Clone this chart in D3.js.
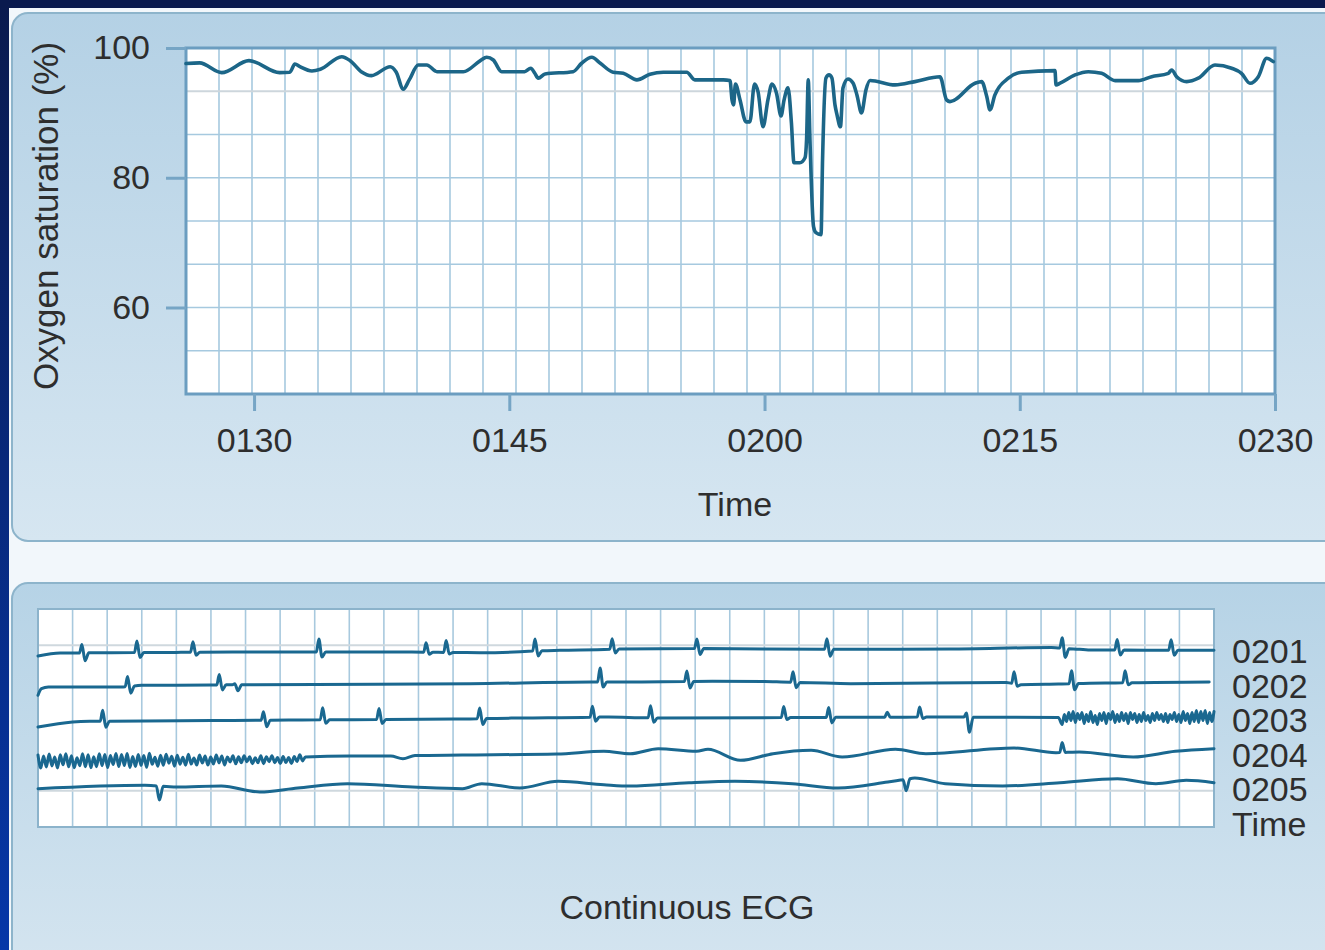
<!DOCTYPE html>
<html>
<head>
<meta charset="utf-8">
<script src="https://cdn.jsdelivr.net/npm/d3@7"></script>
<style>
  html, body { margin: 0; padding: 0; background: #f2f7fb; }
  svg { display: block; }
  text { font-family: "Liberation Sans", Arial, Helvetica, sans-serif; fill: #2e2e2e; }
</style>
</head>
<body>
<script>
// ---------------- DATA ----------------
// SpO2 trace: time in minutes after 01:00, value in %
const spo2Time = [26.0, 26.8, 28.1, 29.7, 31.5, 32.1, 32.4, 32.7, 33.4, 33.9,
  35.15, 35.65, 36.3, 36.9, 38.0, 38.35, 38.77, 39.12, 39.65, 40.15,
  40.75, 42.3, 43.3, 43.67, 44.06, 44.55, 45.9, 46.26, 46.5, 46.7,
  47.1, 48.75, 49.25, 49.85, 50.35, 51.1, 51.7, 52.5, 53.27, 54.05,
  55.43, 55.9, 57.58, 57.97, 58.09, 58.18, 58.29, 58.56, 58.91, 59.14,
  59.41, 59.62, 59.91, 60.2, 60.44, 60.7, 60.97, 61.15, 61.38, 61.58,
  61.73, 62.08, 62.38, 62.47, 62.57, 62.67, 62.88, 63.02, 63.32, 63.41,
  63.61, 63.79, 63.96, 64.14, 64.26, 64.46, 64.61, 64.9, 65.2, 65.43,
  65.7, 65.96, 66.2, 67.67, 68.84, 70.31, 70.7, 70.9, 72.37, 72.76,
  73.06, 73.25, 73.54, 74.33, 75.11, 77.07, 77.13, 77.37, 78.25, 79.03,
  79.81, 80.6, 81.97, 82.75, 83.73, 83.93, 84.22, 84.81, 85.49, 86.47,
  87.45, 88.03, 88.53, 89.02, 89.51, 89.9];
const spo2Value = [97.6, 97.7, 96.2, 98.05, 96.2, 96.26, 97.54, 97.12, 96.46, 96.72,
  98.66, 98.05, 96.35, 95.74, 97.12, 96.3, 93.65, 95.08, 97.38, 97.38,
  96.35, 96.35, 98.05, 98.57, 98.15, 96.35, 96.35, 96.88, 96.1, 95.34,
  96.0, 96.35, 97.65, 98.57, 97.65, 96.26, 96.1, 95.08, 95.95, 96.26,
  96.26, 95.08, 95.08, 95.0, 92.0, 91.23, 94.46, 92.0, 88.62, 88.62,
  94.46, 93.23, 87.85, 92.0, 94.46, 93.08, 89.54, 92.0, 93.85, 88.46,
  82.31, 82.31, 83.08, 85.85, 95.08, 85.85, 72.46, 71.54, 71.23, 82.77,
  95.38, 95.85, 95.38, 91.23, 89.69, 87.85, 93.85, 95.23, 94.62, 92.77,
  90.0, 93.54, 95.0, 94.31, 94.82, 95.58, 92.0, 91.74, 94.57, 94.82,
  92.51, 90.46, 92.77, 95.34, 96.26, 96.51, 94.31, 94.57, 95.85, 96.35,
  96.1, 94.97, 94.97, 95.58, 96.1, 96.62, 95.58, 94.82, 95.34, 97.38,
  96.88, 96.1, 94.57, 95.58, 98.42, 97.89];

const spo2Domain = [26, 90];                     // 01:26 .. 02:30
const spo2YDomain = [100 - 8 * 20 / 3, 100];     // 46.67 .. 100 %
const xTickValues = [30, 45, 60, 75, 90];
const xTickLabels = ["0130", "0145", "0200", "0215", "0230"];
const yTickValues = [60, 80, 100];
const yTickLabels = ["60", "80", "100"];

// ECG strips: position along strip (grid units), mV
const ecgRows = ["0201", "0202", "0203", "0204", "0205"];
const ecgDomain = [0, 34];
// QRS template: [dx, factor of R, factor of S]
const qrsShape = [[-0.07, 0, 0], [0, 1, 0], [0.09, 0, -1], [0.2, 0, 0]];

const base0201 = [[0,-0.45],[0.64,-0.15],[3.24,-0.1],[6.13,-0.05],[10.47,-0.05],[12.78,-0.12],[15.09,0.12],[16.83,0.25],[19.14,0.3],[22.9,0.22],[26.37,0.25],[29.3,0.4],[30.42,0.15],[34,0.12]];
const beats0201 = [[1.27,0.85,0.8],[2.86,1.15,0.5],[4.48,1.05,0.3],[8.12,1.3,0.5],[11.22,0.95,0.2],[11.8,1.2,0.15],[14.37,1.2,0.5],[16.6,1.05,0.4],[19.05,0.95,0.6],[22.81,1.05,0.7],[29.61,1.05,0.9],[31.2,1.05,0.5],[32.76,1.05,0.5]];

const base0202 = [[0,-0.93],[0.1,-0.27],[0.3,-0.1],[2.4,-0.1],[3.0,0.07],[5.0,0.1],[6.0,0.13],[12.5,0.23],[16.0,0.4],[17.1,0.4],[19.5,0.47],[21.0,0.45],[23.5,0.23],[28.0,0.35],[28.4,0.13],[29.5,0.2],[31.0,0.3],[33.86,0.4]];
const beats0202 = [[2.59,1.0,0.7],[5.24,1.05,0.5],[5.69,0.1,0.6],[16.25,1.4,0.5],[18.76,1.05,0.65],[21.83,1.05,0.55],[28.22,1.2,0.2],[29.88,1.3,0.6],[31.43,1.2,0.2]];

const base0203 = [[0,-0.65],[1.0,-0.15],[1.5,-0.08],[5.0,0.0],[10.0,0.1],[12.0,0.15],[14.0,0.25],[16.5,0.35],[18.0,0.25],[22.0,0.3],[26.0,0.35],[29.5,0.3],[34,0.3]];
const beats0203 = [[1.87,1.1,0.6],[6.52,0.85,0.65],[8.23,1.2,0.35],[9.86,1.1,0.4],[12.77,1.05,0.6],[16.03,1.1,0.4],[17.71,1.2,0.45],[21.56,1.1,0.2],[22.86,1.0,0.55],[24.55,0.5,0.0],[25.49,1.0,0.15],[26.84,0.4,1.5]];
const noiseSpan0203 = [29.61, 34.0];
const noise0203 = [-0.7,0.3,-0.4,0.5,-0.3,0.6,-0.5,0.4,-0.2,0.5,-0.6,0.3,-0.4,0.6,-0.5,0.2,-0.7,0.4,-0.3,0.5,-0.6,0.4,-0.2,0.6,-0.5,0.3,-0.4,0.5,-0.3,0.4,-0.6,0.5,-0.2,0.4,-0.5,0.3,-0.4,0.5,-0.3,0.2,-0.5,0.4,-0.3,0.5,-0.2,0.3,-0.4,0.4,-0.5,0.3,-0.2,0.5,-0.4,0.3,-0.5,0.6,-0.3,0.4,-0.6,0.5,-0.4,0.7,-0.5,0.6,-0.3,0.7,-0.6,0.5,-0.4,0.6];

const base0204 = [[0,-0.6],[7.5,-0.45],[7.73,-0.2],[9.0,-0.1],[10.2,-0.1],[10.55,-0.37],[10.9,-0.05],[12.27,0.0],[15.0,0.1],[16.36,0.37],[17.12,0.13],[17.93,0.63],[19.04,0.37],[19.37,0.57],[20.31,-0.53],[21.25,0.13],[22.35,0.47],[23.25,-0.2],[24.79,0.57],[25.67,0.13],[28.22,0.7],[29.43,0.23],[30.1,0.3],[31.66,-0.2],[32.88,0.37],[34,0.63]];
const beats0204 = [[29.61,1.0,0.0]];
const noiseSpan0204 = [0, 7.73];
const noise0204 = [0.6,-0.7,0.5,-0.6,0.7,-0.5,0.4,-0.7,0.6,-0.4,0.7,-0.6,0.5,-0.7,0.3,-0.5,0.7,-0.6,0.6,-0.7,0.4,-0.6,0.7,-0.5,0.6,-0.7,0.5,-0.4,0.7,-0.6,0.6,-0.5,0.7,-0.7,0.4,-0.6,0.6,-0.5,0.5,-0.7,0.7,-0.4,0.3,-0.6,0.5,-0.5,0.6,-0.3,0.4,-0.6,0.5,-0.4,0.3,-0.5,0.6,-0.4,0.2,-0.5,0.5,-0.3,0.4,-0.5,0.3,-0.4,0.5,-0.3,0.4,-0.5,0.3,-0.2,0.4,-0.4,0.3,-0.3,0.4,-0.2,0.3,-0.4,0.2,-0.3,0.4,-0.4,0.3,-0.2,0.4,-0.3,0.2,-0.4,0.3,-0.3,0.2,-0.4,0.3,-0.2,0.4,-0.3,0.0];

const base0205 = [[0,0.08],[3.09,0.42],[4.0,0.25],[5.3,0.35],[6.41,-0.25],[7.51,0.15],[8.95,0.58],[10.83,0.25],[12.27,0.08],[12.83,0.58],[13.93,0.15],[15.04,0.82],[16.36,0.48],[17.12,0.35],[18.82,0.68],[20.15,0.82],[21.81,0.58],[23.13,0.15],[24.57,0.75],[25.35,1.15],[26.23,0.58],[27.89,0.35],[29.55,0.68],[31.21,1.08],[32.32,0.58],[33.2,0.92],[34,0.68]];
const beats0205 = [[3.42,0,1.4],[25.01,0,1.15]];

const ecgSeries = [
  {row: "0201", base: base0201, beats: beats0201, noise: null, span: null},
  {row: "0202", base: base0202, beats: beats0202, noise: null, span: null},
  {row: "0203", base: base0203, beats: beats0203, noise: noise0203, span: noiseSpan0203},
  {row: "0204", base: base0204, beats: beats0204, noise: noise0204, span: noiseSpan0204},
  {row: "0205", base: base0205, beats: beats0205, noise: null, span: null}
];

// ---------------- DRAW ----------------
const W = 1325, H = 950;
const svg = d3.select("body").append("svg").attr("width", W).attr("height", H);
const defs = svg.append("defs");

const gStrip = defs.append("linearGradient").attr("id", "strip").attr("x1", 0).attr("y1", 0).attr("x2", 0).attr("y2", 1);
gStrip.append("stop").attr("offset", "0%").attr("stop-color", "#0a1a4e");
gStrip.append("stop").attr("offset", "100%").attr("stop-color", "#0637a8");

const gPanel = defs.append("linearGradient").attr("id", "panel").attr("x1", 0).attr("y1", 0).attr("x2", 0).attr("y2", 1);
gPanel.append("stop").attr("offset", "0%").attr("stop-color", "#b4d1e5");
gPanel.append("stop").attr("offset", "100%").attr("stop-color", "#d6e6f1");

const gPanel2 = defs.append("linearGradient").attr("id", "panel2").attr("x1", 0).attr("y1", 0).attr("x2", 0).attr("y2", 1);
gPanel2.append("stop").attr("offset", "0%").attr("stop-color", "#b6d3e6");
gPanel2.append("stop").attr("offset", "100%").attr("stop-color", "#d5e5f0");

// slide frame
svg.append("rect").attr("x", 0).attr("y", 0).attr("width", 9).attr("height", H).attr("fill", "url(#strip)");
svg.append("rect").attr("x", 0).attr("y", 0).attr("width", W).attr("height", 8).attr("fill", "#0a1a4e");

// panels
svg.append("rect").attr("x", 12).attr("y", 13).attr("width", 1350).attr("height", 528).attr("rx", 16)
  .attr("fill", "url(#panel)").attr("stroke", "#8db4cb").attr("stroke-width", 2);
svg.append("rect").attr("x", 12).attr("y", 583).attr("width", 1350).attr("height", 400).attr("rx", 16)
  .attr("fill", "url(#panel2)").attr("stroke", "#8db4cb").attr("stroke-width", 2);

// ---------- Top chart: oxygen saturation ----------
const x = d3.scaleLinear().domain(spo2Domain).range([186, 1275]);
const y = d3.scaleLinear().domain(spo2YDomain).range([394, 48]);
const gTop = svg.append("g");

gTop.append("rect").attr("x", x.range()[0]).attr("y", y.range()[1])
  .attr("width", x.range()[1] - x.range()[0]).attr("height", y.range()[0] - y.range()[1]).attr("fill", "#ffffff");

const nCols = 33;
const vGrid = d3.range(1, nCols).map(k => spo2Domain[0] + k * (spo2Domain[1] - spo2Domain[0]) / nCols);
gTop.append("g").selectAll("line").data(vGrid).join("line")
  .attr("x1", d => x(d)).attr("x2", d => x(d)).attr("y1", y.range()[1]).attr("y2", y.range()[0])
  .attr("stroke", "#a6c9df").attr("stroke-width", 1.6);
const hGrid = d3.range(1, 8).map(k => 100 - k * 20 / 3);
gTop.append("g").selectAll("line").data(hGrid).join("line")
  .attr("x1", x.range()[0]).attr("x2", x.range()[1]).attr("y1", d => y(d)).attr("y2", d => y(d))
  .attr("stroke", (d, i) => i === 0 ? "#cdd6dc" : "#a6c9df").attr("stroke-width", (d, i) => i === 0 ? 2.2 : 1.6);

gTop.append("rect").attr("x", x.range()[0]).attr("y", y.range()[1])
  .attr("width", x.range()[1] - x.range()[0]).attr("height", y.range()[0] - y.range()[1])
  .attr("fill", "none").attr("stroke", "#6b9dc0").attr("stroke-width", 3);

const xAxis = gTop.append("g").attr("transform", `translate(0,${y.range()[0]})`)
  .call(d3.axisBottom(x).tickValues(xTickValues).tickFormat((d, i) => xTickLabels[i]).tickSize(17).tickPadding(17));
const yAxis = gTop.append("g").attr("transform", `translate(${x.range()[0]},0)`)
  .call(d3.axisLeft(y).tickValues(yTickValues).tickFormat((d, i) => yTickLabels[i]).tickSize(20).tickPadding(16));
[xAxis, yAxis].forEach(a => {
  a.select(".domain").remove();
  a.selectAll(".tick line").attr("stroke", "#76a5c5").attr("stroke-width", 3);
  a.selectAll(".tick text").attr("font-size", 34).attr("fill", "#2e2e2e")
    .attr("font-family", '"Liberation Sans", Arial, Helvetica, sans-serif');
});

const spo2 = spo2Time.map((t, i) => [t, spo2Value[i]]);
gTop.append("path").datum(spo2)
  .attr("d", d3.line().x(d => x(d[0])).y(d => y(d[1])).curve(d3.curveMonotoneX))
  .attr("fill", "none").attr("stroke", "#1c6688").attr("stroke-width", 3.6)
  .attr("stroke-linejoin", "round").attr("stroke-linecap", "round");

gTop.append("text").attr("x", 735).attr("y", 516).attr("text-anchor", "middle").attr("font-size", 34).text("Time");
gTop.append("text").attr("transform", "translate(58,216) rotate(-90)").attr("text-anchor", "middle")
  .attr("font-size", 35).text("Oxygen saturation (%)");

// ---------- Bottom chart: continuous ECG ----------
const xE = d3.scaleLinear().domain(ecgDomain).range([38, 1214]);
const rowY = d3.scalePoint().domain(ecgRows).range([651.5, 789.5]);
const mv = d3.scaleLinear().domain([0, 1]).range([0, -10]);
const gridY = d3.scaleLinear().domain([0, 6]).range([609, 827]);
const gBot = svg.append("g");

gBot.append("rect").attr("x", xE.range()[0]).attr("y", gridY.range()[0])
  .attr("width", xE.range()[1] - xE.range()[0]).attr("height", gridY.range()[1] - gridY.range()[0]).attr("fill", "#ffffff");
gBot.append("g").selectAll("line").data(d3.range(1, 34)).join("line")
  .attr("x1", d => xE(d)).attr("x2", d => xE(d)).attr("y1", gridY.range()[0]).attr("y2", gridY.range()[1])
  .attr("stroke", "#a8c9de").attr("stroke-width", 1.6);
gBot.append("g").selectAll("line").data([1, 5]).join("line")
  .attr("x1", xE.range()[0]).attr("x2", xE.range()[1]).attr("y1", d => gridY(d)).attr("y2", d => gridY(d))
  .attr("stroke", "#cfd8de").attr("stroke-width", 2);
gBot.append("rect").attr("x", xE.range()[0]).attr("y", gridY.range()[0])
  .attr("width", xE.range()[1] - xE.range()[0]).attr("height", gridY.range()[1] - gridY.range()[0])
  .attr("fill", "none").attr("stroke", "#8cb3cb").attr("stroke-width", 2);

function baseAt(base, s) {
  if (s <= base[0][0]) return base[0][1];
  for (let i = 1; i < base.length; i++) {
    if (s <= base[i][0]) {
      const a = base[i - 1], b = base[i];
      return a[1] + (b[1] - a[1]) * (s - a[0]) / (b[0] - a[0]);
    }
  }
  return base[base.length - 1][1];
}
function buildRow(ser) {
  const q0 = qrsShape[0][0], q1 = qrsShape[qrsShape.length - 1][0];
  const inBeat = s => ser.beats.some(b => s > b[0] + q0 - 0.03 && s < b[0] + q1 + 0.03);
  const inNoise = s => ser.span && s >= ser.span[0] && s <= ser.span[1];
  const pts = [];
  ser.base.forEach(p => { if (!inBeat(p[0]) && !inNoise(p[0])) pts.push([p[0], p[1]]); });
  ser.beats.forEach(b => qrsShape.forEach(q => {
    const s = b[0] + q[0];
    pts.push([s, baseAt(ser.base, s) + q[1] * b[1] + q[2] * b[2]]);
  }));
  if (ser.noise) {
    const n = ser.noise.length;
    ser.noise.forEach((v, i) => {
      const s = ser.span[0] + i * (ser.span[1] - ser.span[0]) / (n - 1);
      pts.push([s, baseAt(ser.base, s) + v]);
    });
  }
  pts.sort((a, b) => a[0] - b[0]);
  return pts.filter((p, i) => i === 0 || p[0] > pts[i - 1][0] + 1e-6);
}

const ecgLine = d3.line().curve(d3.curveMonotoneX);
gBot.append("g").selectAll("path").data(ecgSeries).join("path")
  .attr("d", ser => ecgLine.x(d => xE(d[0])).y(d => rowY(ser.row) + mv(d[1]))(buildRow(ser)))
  .attr("fill", "none").attr("stroke", "#1a6890").attr("stroke-width", 3)
  .attr("stroke-linejoin", "round").attr("stroke-linecap", "round");

const rowLabels = ecgRows.concat(["Time"]);
gBot.append("g").selectAll("text").data(rowLabels).join("text")
  .attr("x", 1232)
  .attr("y", (d, i) => rowY.range()[0] + i * rowY.step())
  .attr("dy", "0.35em").attr("font-size", 34).text(d => d);

gBot.append("text").attr("x", 687).attr("y", 919).attr("text-anchor", "middle").attr("font-size", 34).text("Continuous ECG");
</script>
</body>
</html>
